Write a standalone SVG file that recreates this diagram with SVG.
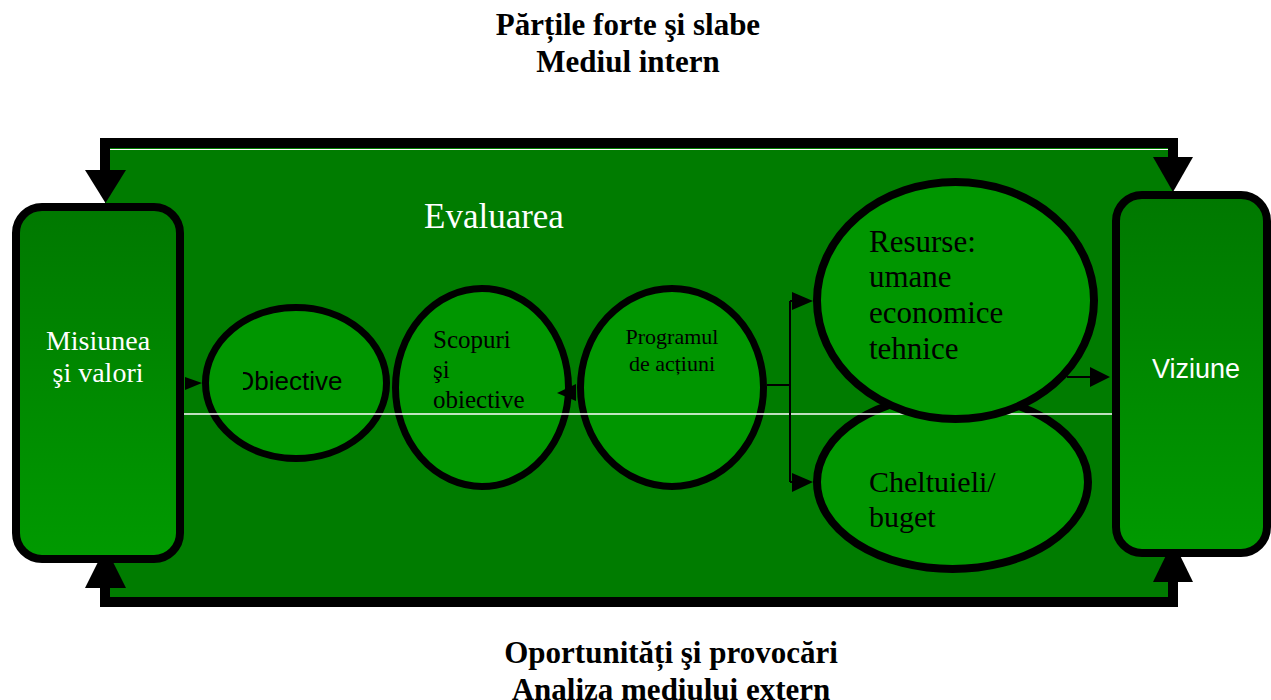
<svg xmlns="http://www.w3.org/2000/svg" width="1271" height="700" viewBox="0 0 1271 700">
<defs>
<linearGradient id="rg" x1="0" y1="0" x2="0" y2="1">
<stop offset="0" stop-color="#007800"/>
<stop offset="1" stop-color="#009a00"/>
</linearGradient>
<clipPath id="objClip"><rect x="243" y="340" width="120" height="70"/></clipPath>
<style>
.hdr{font-family:"Liberation Serif","Times New Roman",serif;font-weight:bold;font-size:31px;fill:#000;text-anchor:middle}
.box{fill:url(#rg);stroke:#000;stroke-width:8}
.ell{fill:#009600;stroke:#000;stroke-width:7}
.ell8{fill:#009600;stroke:#000;stroke-width:8}
.ser{font-family:"Liberation Serif","Times New Roman",serif;fill:#000}
.wser{font-family:"Liberation Serif","Times New Roman",serif;fill:#fff}
.sans{font-family:"Liberation Sans",Arial,sans-serif}
.frame{fill:none;stroke:#000;stroke-width:10}
.ln{fill:none;stroke:#000;stroke-width:2}
</style>
</defs>
<rect width="1271" height="700" fill="#fff"/>
<g id="titles">
<text class="hdr" x="628" y="35">Părțile forte şi slabe</text>
<text class="hdr" x="628" y="72">Mediul intern</text>
<text class="hdr" x="671" y="663">Oportunități şi provocări</text>
<text class="hdr" x="671" y="700">Analiza mediului extern</text>
</g>
<g id="evaluarea">
<rect x="105" y="143" width="1068" height="459" fill="#007c00"/>
<line x1="110" y1="149.5" x2="1168" y2="149.5" stroke="#fff" stroke-width="1"/>
<text class="wser" x="424" y="228" font-size="35">Evaluarea</text>
</g>
<g id="connectors">
<path class="frame" d="M105,172 V143 H1173 V159"/>
<path class="frame" d="M105,586 V602 H1173 V580"/>
<polygon points="85,170 126,170 105.5,203"/>
<polygon points="1153,157 1193,157 1173,192"/>
<polygon points="85,588 126,588 105.5,547"/>
<polygon points="1153,582 1193,582 1173,541"/>
</g>
<g id="misiunea">
<rect class="box" x="16" y="207" width="164" height="352" rx="26"/>
<text class="wser" x="98" y="350" font-size="28" text-anchor="middle">Misiunea</text>
<text class="wser" x="98" y="382" font-size="28" text-anchor="middle">şi valori</text>
</g>
<g id="viziune">
<rect class="box" x="1116" y="195" width="151" height="358" rx="26"/>
<text class="sans" x="1196" y="378" font-size="27" fill="#fff" text-anchor="middle">Viziune</text>
</g>
<g id="obiective">
<ellipse class="ell" cx="296" cy="383" rx="90.5" ry="75.5"/>
<text class="sans" x="234" y="390" font-size="26" fill="#000" clip-path="url(#objClip)">Obiective</text>
</g>
<g id="scopuri">
<ellipse class="ell" cx="482" cy="387.5" rx="86.5" ry="99"/>
<text class="ser" x="433" y="348" font-size="25">Scopuri</text>
<text class="ser" x="433" y="378" font-size="25">şi</text>
<text class="ser" x="433" y="408" font-size="25">obiective</text>
</g>
<g id="programul">
<ellipse class="ell" cx="672" cy="387.5" rx="91.5" ry="99"/>
<text class="ser" x="672" y="344" font-size="22" text-anchor="middle">Programul</text>
<text class="ser" x="672" y="371" font-size="22" text-anchor="middle">de acțiuni</text>
</g>
<g id="cheltuieli">
<ellipse class="ell8" cx="952.5" cy="482" rx="135.5" ry="87"/>
<text class="ser" x="869" y="492" font-size="30">Cheltuieli/</text>
<text class="ser" x="869" y="527" font-size="30">buget</text>
</g>
<line x1="184" y1="414" x2="1112" y2="414" stroke="#fff" stroke-width="1.5"/>
<g id="resurse">
<ellipse class="ell8" cx="955.5" cy="300.5" rx="138.5" ry="118.5"/>
<text class="ser" x="869" y="252" font-size="31">Resurse:</text>
<text class="ser" x="869" y="287" font-size="31">umane</text>
<text class="ser" x="869" y="323" font-size="31">economice</text>
<text class="ser" x="869" y="359" font-size="31">tehnice</text>
</g>
<g id="links">
<polygon points="185,377 202,383 185,390"/>
<polygon points="557,393 576,384 576,401"/>
<path class="ln" d="M767,385 H790 M790,301 V482 M790,301 H796 M790,482 H796 M1067,377 H1092"/>
<polygon points="792,292 813,301 792,310"/>
<polygon points="792,473 813,482 792,492"/>
<polygon points="1090,367 1110,377 1090,387"/>
</g>
</svg>
